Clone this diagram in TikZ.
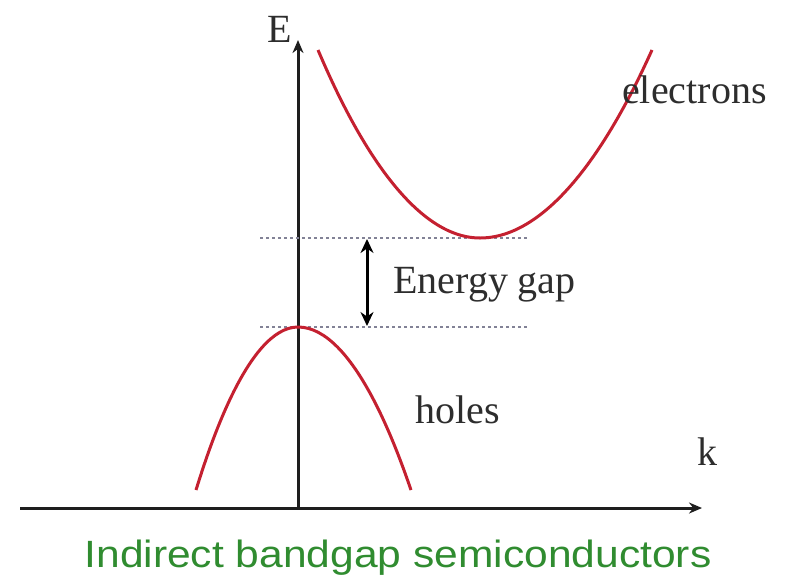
\documentclass[tikz,border=0pt]{standalone}
\usepackage{fontspec}
\setmainfont{Liberation Serif}
\newfontfamily\titlefont{Liberation Sans}
\usepackage{tikz}
\usetikzlibrary{arrows.meta}
\definecolor{bandred}{RGB}{196, 32, 48}
\definecolor{axisdark}{RGB}{30, 30, 30}
\definecolor{textdark}{RGB}{45, 45, 45}
\definecolor{levelgray}{RGB}{130, 130, 150}
\definecolor{titlegreen}{RGB}{48, 140, 48}
\tikzset{
  axis/.style={draw=axisdark, line width=3pt, -{Stealth[length=13pt, width=11pt]}},
  band/.style={draw=bandred, line width=3pt},
  level/.style={draw=levelgray, line width=1.2pt, dash pattern=on 3pt off 3pt},
  gaparrow/.style={draw=black, line width=3pt, {Stealth[length=14pt, width=13pt]}-{Stealth[length=14pt, width=13pt]}},
  lbl/.style={font=\fontsize{40}{46}\selectfont, text=textdark, inner sep=0pt, anchor=base west}
}

\begin{document}
\begin{tikzpicture}[x=1pt, y=-1pt]
        \useasboundingbox (0,0) rectangle (786,587);
        % axes
        \coordinate (O) at (298,508);
        \coordinate (Etop) at (298,40);
        \coordinate (kleft) at (20,508);
        \coordinate (kend) at (702,508);
        \draw[axis] (O) -- (Etop);
        \draw[axis] (kleft) -- (kend);
        \node[lbl] (Elbl) at (267,42) {E};
        \node[lbl] (klbl) at (697,465) {k};
        % band edges
        \coordinate (cbmin) at (480,238);
        \coordinate (vbmax) at (298,327);
        \draw[level] (260,238) coordinate (cb-l) -- (528,238) coordinate (cb-r);
        \draw[level] (260,327) coordinate (vb-l) -- (528,327) coordinate (vb-r);
        \draw[band] (318,50) parabola bend (cbmin) (652,50);
        \draw[band] (196,490) parabola bend (vbmax) (411,490);
        % gap
        \coordinate (gaptop) at (367,239);
        \coordinate (gapbot) at (367,326);
        \draw[gaparrow] (gaptop) -- (gapbot);
        \node[lbl] (gaplbl) at (393,293) {Energy gap};
        \node[lbl] (elbl) at (622,103) {electrons};
        \node[lbl] (hlbl) at (415,423) {holes};
        \node[inner sep=0pt, anchor=base, text=titlegreen] (title) at (398,567)
          {\scalebox{1.12}[1]{\titlefont\fontsize{38}{44}\selectfont Indirect bandgap semiconductors}};
      \end{tikzpicture}
\end{document}
